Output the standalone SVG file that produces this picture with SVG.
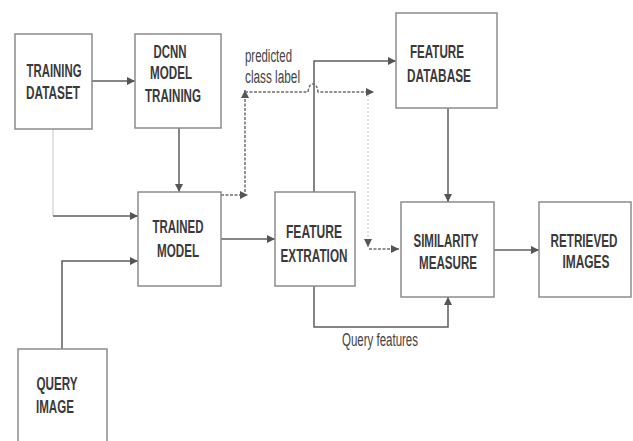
<svg xmlns="http://www.w3.org/2000/svg" width="633" height="441" viewBox="0 0 633 441">
<defs>
<style>
.box{fill:#fff;stroke:#8c8c8c;stroke-width:1.5}
.t{font-family:"Liberation Sans",Arial,sans-serif;font-size:18px;font-weight:bold;fill:#3a3a3a;text-anchor:middle}
.l{font-family:"Liberation Sans",Arial,sans-serif;font-size:18px;fill:#444}
.c{fill:none;stroke:#5e5e5e;stroke-width:1.5}
.d{fill:none;stroke:#6e6e6e;stroke-width:1.5;stroke-dasharray:3 1.5}
.f{fill:none;stroke:#d8d8d8;stroke-width:1.5}
</style>
<marker id="ah" viewBox="0 0 10 10" refX="10" refY="5" markerWidth="8" markerHeight="8" markerUnits="userSpaceOnUse" orient="auto"><path d="M0,0 L10,5 L0,10z" fill="#555"/></marker>
</defs>
<rect width="633" height="441" fill="#fff"/>
<g id="connectors">
<path class="c" d="M92,81 H135" marker-end="url(#ah)"/>
<path class="c" d="M179,128 V192" marker-end="url(#ah)"/>
<path class="f" d="M53,129 V216"/>
<path class="c" d="M53,216 H138" marker-end="url(#ah)"/>
<path class="c" d="M62,349 V261 H138" marker-end="url(#ah)"/>
<path class="c" d="M221,239 H275" marker-end="url(#ah)"/>
<path class="c" d="M314,192 V61 H396" marker-end="url(#ah)"/>
<path class="c" d="M448,108 V202" marker-end="url(#ah)"/>
<path class="c" d="M314,286 V327 H448 V297" marker-end="url(#ah)"/>
<path class="c" d="M494,250 H539" marker-end="url(#ah)"/>
<path class="d" d="M221,195 H248" marker-end="url(#ah)"/>
<path class="d" d="M245,192 V90" marker-end="url(#ah)"/>
<path class="d" d="M245,92 H308 Q309,84 313,84 Q317,84 318,92 H374" marker-end="url(#ah)"/>
<path class="f" d="M368,95 V240" stroke-dasharray="2 2"/>
<path class="d" d="M368,239 V247" marker-end="url(#ah)"/>
<path class="d" d="M369,249 H399" marker-end="url(#ah)"/>
<text class="l" x="245" y="62" textLength="47" lengthAdjust="spacingAndGlyphs">predicted</text>
<text class="l" x="245" y="83" textLength="55" lengthAdjust="spacingAndGlyphs">class label</text>
<text class="l" x="342" y="346" textLength="76" lengthAdjust="spacingAndGlyphs">Query features</text>
</g>
<g id="training-dataset">
<rect class="box" x="15" y="34" width="77" height="95"/>
<text class="t" x="54" y="77" textLength="55" lengthAdjust="spacingAndGlyphs">TRAINING</text>
<text class="t" x="53" y="99" textLength="54" lengthAdjust="spacingAndGlyphs">DATASET</text>
</g>
<g id="dcnn-model-training">
<rect class="box" x="135" y="34" width="86" height="94"/>
<text class="t" x="170" y="58" textLength="33" lengthAdjust="spacingAndGlyphs">DCNN</text>
<text class="t" x="171" y="79" textLength="42" lengthAdjust="spacingAndGlyphs">MODEL</text>
<text class="t" x="173" y="102" textLength="56" lengthAdjust="spacingAndGlyphs">TRAINING</text>
</g>
<g id="trained-model">
<rect class="box" x="138" y="192" width="83" height="94"/>
<text class="t" x="178" y="233" textLength="51" lengthAdjust="spacingAndGlyphs">TRAINED</text>
<text class="t" x="178" y="257" textLength="42" lengthAdjust="spacingAndGlyphs">MODEL</text>
</g>
<g id="feature-extraction">
<rect class="box" x="275" y="192" width="80" height="94"/>
<text class="t" x="314" y="238" textLength="56" lengthAdjust="spacingAndGlyphs">FEATURE</text>
<text class="t" x="314" y="262" textLength="67" lengthAdjust="spacingAndGlyphs">EXTRATION</text>
</g>
<g id="feature-database">
<rect class="box" x="396" y="13" width="101" height="95"/>
<text class="t" x="437" y="58" textLength="54" lengthAdjust="spacingAndGlyphs">FEATURE</text>
<text class="t" x="439" y="82" textLength="64" lengthAdjust="spacingAndGlyphs">DATABASE</text>
</g>
<g id="similarity-measure">
<rect class="box" x="401" y="202" width="93" height="95"/>
<text class="t" x="446" y="247" textLength="65" lengthAdjust="spacingAndGlyphs">SIMILARITY</text>
<text class="t" x="448" y="269" textLength="58" lengthAdjust="spacingAndGlyphs">MEASURE</text>
</g>
<g id="retrieved-images">
<rect class="box" x="539" y="202" width="92" height="95"/>
<text class="t" transform="translate(584,247) scale(0.65,1)">RETRIEVED</text>
<text class="t" x="586" y="268" textLength="47" lengthAdjust="spacingAndGlyphs">IMAGES</text>
</g>
<g id="query-image">
<rect class="box" x="18" y="349" width="89" height="100"/>
<text class="t" x="57" y="390" textLength="41" lengthAdjust="spacingAndGlyphs">QUERY</text>
<text class="t" x="55" y="413" textLength="38" lengthAdjust="spacingAndGlyphs">IMAGE</text>
</g>
</svg>
